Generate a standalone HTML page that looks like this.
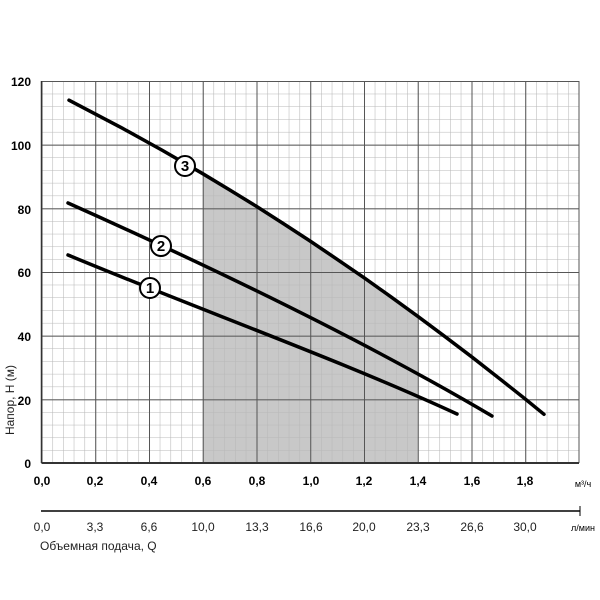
<!DOCTYPE html><html><head><style>body{margin:0;background:#fff}svg{display:block}</style></head><body>
<svg width="600" height="600" xmlns="http://www.w3.org/2000/svg" font-family="Liberation Sans, sans-serif">
<defs>
<pattern id="mn" x="41.5" y="81" width="10.75" height="12.7333" patternUnits="userSpaceOnUse"><path d="M0.25,0 V12.7333 M0,0.25 H10.75" stroke="#b8b8b8" stroke-width="0.6" fill="none"/></pattern>
<pattern id="mj" x="41.5" y="81" width="53.75" height="63.6667" patternUnits="userSpaceOnUse"><path d="M0.5,0 V63.6667 M0,0.5 H53.75" stroke="#555" stroke-width="1" fill="none"/></pattern>
</defs>
<rect width="600" height="600" fill="#fff"/>
<polygon points="202.75,463 202.75,173.7 229.6,189.9 256.5,206.4 283.4,223.6 310.25,241.1 337.1,259.3 364,277.7 390.9,296.8 417.75,316.3 417.75,463" fill="#c8c8c8"/>
<rect x="41.5" y="81" width="538" height="382" fill="url(#mn)"/>
<rect x="41.5" y="81" width="538" height="382" fill="url(#mj)"/>
<line x1="579" y1="81" x2="579" y2="463" stroke="#555" stroke-width="1"/>
<line x1="41.5" y1="81" x2="41.5" y2="463" stroke="#333" stroke-width="1.5"/>
<line x1="41.5" y1="463" x2="579" y2="463" stroke="#333" stroke-width="2"/>
<g stroke="#000" stroke-width="3.5" fill="none" stroke-linecap="round" stroke-linejoin="round">
<polyline points="69,100.2 122.1,128.1 162.4,150.4 202.75,173.7 229.6,189.9 256.5,206.4 283.4,223.6 310.25,241.1 337.1,259.3 364,277.7 390.9,296.8 417.75,316.3 444.6,336.3 471.5,356.7 498.4,377.7 525.25,399 544,414.3"/>
<path d="M68,203 C200,262 360,338 492,416"/>
<path d="M68,255 C200,310 340,360 457,414"/>
</g>
<g fill="#fff" stroke="#000" stroke-width="2"><circle cx="185" cy="166" r="10"/><circle cx="161" cy="246" r="10"/><circle cx="150" cy="288" r="10"/></g>
<g font-weight="bold" font-size="15" text-anchor="middle"><text x="185" y="171">3</text><text x="161" y="251">2</text><text x="150" y="293">1</text></g>
<g font-weight="bold" font-size="12" text-anchor="end">
<text x="31" y="86">120</text><text x="31" y="150">100</text><text x="31" y="214">80</text><text x="31" y="277">60</text><text x="31" y="341">40</text><text x="31" y="405">20</text><text x="31" y="468">0</text></g>
<g font-weight="bold" font-size="12" text-anchor="middle">
<text x="42" y="485">0,0</text><text x="95" y="485">0,2</text><text x="149" y="485">0,4</text><text x="203" y="485">0,6</text><text x="257" y="485">0,8</text><text x="311" y="485">1,0</text><text x="364" y="485">1,2</text><text x="418" y="485">1,4</text><text x="472" y="485">1,6</text><text x="525" y="485">1,8</text></g>
<text x="583" y="487" font-size="9" text-anchor="middle">м³/ч</text>
<line x1="41" y1="511" x2="580" y2="511" stroke="#000" stroke-width="1.5"/>
<line x1="580" y1="506" x2="580" y2="516" stroke="#000"/>
<g font-size="12" text-anchor="middle" fill="#222">
<text x="42" y="531">0,0</text><text x="95" y="531">3,3</text><text x="149" y="531">6,6</text><text x="203" y="531">10,0</text><text x="257" y="531">13,3</text><text x="311" y="531">16,6</text><text x="364" y="531">20,0</text><text x="418" y="531">23,3</text><text x="472" y="531">26,6</text><text x="525" y="531">30,0</text></g>
<text x="583" y="531" font-size="9" text-anchor="middle">л/мин</text>
<text x="40" y="550" font-size="12" fill="#222">Объемная подача, Q</text>
<text transform="translate(14,400) rotate(-90)" font-size="12" text-anchor="middle" fill="#222">Напор, H (м)</text>
</svg></body></html>
